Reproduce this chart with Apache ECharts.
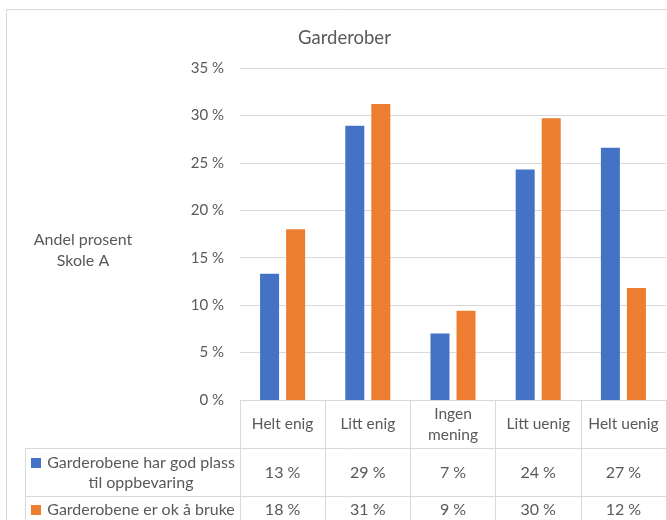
<!DOCTYPE html>
<html>
<head>
<meta charset="utf-8">
<script src="https://cdn.jsdelivr.net/npm/echarts@6/dist/echarts.min.js"></script>
<style>html,body{margin:0;padding:0;background:#fff}#c{width:667px;height:520px}</style>
</head>
<body>
<div id="c"></div>
<script>
var titleText = 'Garderober';
var yAxisTitle = 'Andel prosent\nSkole A';
var categories = ['Helt enig', 'Litt enig', 'Ingen\nmening', 'Litt uenig', 'Helt uenig'];
var seriesNames = ['Garderobene har god plass\ntil oppbevaring', 'Garderobene er ok å bruke'];
var plassValues = [13.3, 28.9, 7.0, 24.3, 26.6];
var okValues = [18.0, 31.2, 9.4, 29.7, 11.8];
var yTicks = [0, 5, 10, 15, 20, 25, 30, 35];

var colors = ['#4472C4', '#ED7D31'];
var txt = '#595959';
var lineCol = '#d9d9d9';
var font = 'Lato';
var allValues = [plassValues, okValues];

var chart = echarts.init(document.getElementById('c'));

var gridTop = 68, gridBottom = 400, gridLeft = 240;
var rowLines = [448, 496];
var rowCenters = [473, 510];

var graphics = [
  {type: 'rect', shape: {x: 6.5, y: 9.5, width: 800, height: 700}, style: {fill: 'none', stroke: lineCol, lineWidth: 1}, silent: true},
  {type: 'text', x: 83, y: 250, style: {text: yAxisTitle, fill: txt, font: '16px ' + font, textAlign: 'center', textVerticalAlign: 'middle', lineHeight: 21}},
  {type: 'line', shape: {x1: 25.5, y1: rowLines[0], x2: 25.5, y2: 530}, style: {stroke: lineCol, lineWidth: 1}},
];
rowLines.forEach(function (y) {
  graphics.push({type: 'line', shape: {x1: 25, y1: y + 0.5, x2: 670, y2: y + 0.5}, style: {stroke: lineCol, lineWidth: 1}});
});
seriesNames.forEach(function (n, i) {
  var lines = n.split('\n').length;
  var topLineY = rowCenters[i] - (lines - 1) * 10;
  graphics.push({type: 'rect', shape: {x: 31, y: topLineY - 5, width: 10, height: 10}, style: {fill: colors[i]}});
  graphics.push({type: 'text', x: 141, y: rowCenters[i], style: {text: n, fill: txt, font: '16px ' + font, textAlign: 'center', textVerticalAlign: 'middle', lineHeight: 20}});
});

var valueAxes = allValues.map(function (vals, i) {
  return {
    type: 'category', data: categories, position: 'bottom', offset: 0, gridIndex: 0,
    axisLine: {show: false}, axisTick: {show: false}, splitLine: {show: false},
    axisLabel: {
      margin: rowCenters[i] - gridBottom, verticalAlign: 'middle', color: txt, fontFamily: font, fontSize: 16,
      formatter: function (v, idx) { return Math.round(vals[idx]) + ' %'; }
    }
  };
});

chart.setOption({
  animation: false,
  textStyle: {fontFamily: font},
  title: {text: titleText, left: 293, top: 24, textStyle: {color: txt, fontFamily: font, fontSize: 18.5, fontWeight: 'normal'}},
  grid: {left: gridLeft, right: 1, top: gridTop, bottom: 520 - gridBottom, containLabel: false},
  xAxis: [{
    type: 'category', data: categories, position: 'bottom',
    axisLine: {show: true, lineStyle: {color: lineCol, width: 1}},
    axisTick: {show: true, length: 130, lineStyle: {color: lineCol}},
    axisLabel: {margin: 24, verticalAlign: 'middle', color: txt, fontFamily: font, fontSize: 15.5, lineHeight: 21, interval: 0}
  }].concat(valueAxes),
  yAxis: {
    type: 'value', min: yTicks[0], max: yTicks[yTicks.length - 1], interval: yTicks[1] - yTicks[0],
    axisLine: {show: false}, axisTick: {show: false},
    splitLine: {lineStyle: {color: lineCol, width: 1}},
    axisLabel: {margin: 16, color: txt, fontFamily: font, fontSize: 15, formatter: '{value} %'}
  },
  series: allValues.map(function (vals, i) {
    return {
      type: 'bar', name: seriesNames[i], data: vals, xAxisIndex: 0,
      barWidth: 19, barGap: '37%',
      itemStyle: {color: colors[i]}
    };
  }),
  graphic: graphics
});
</script>
</body>
</html>
